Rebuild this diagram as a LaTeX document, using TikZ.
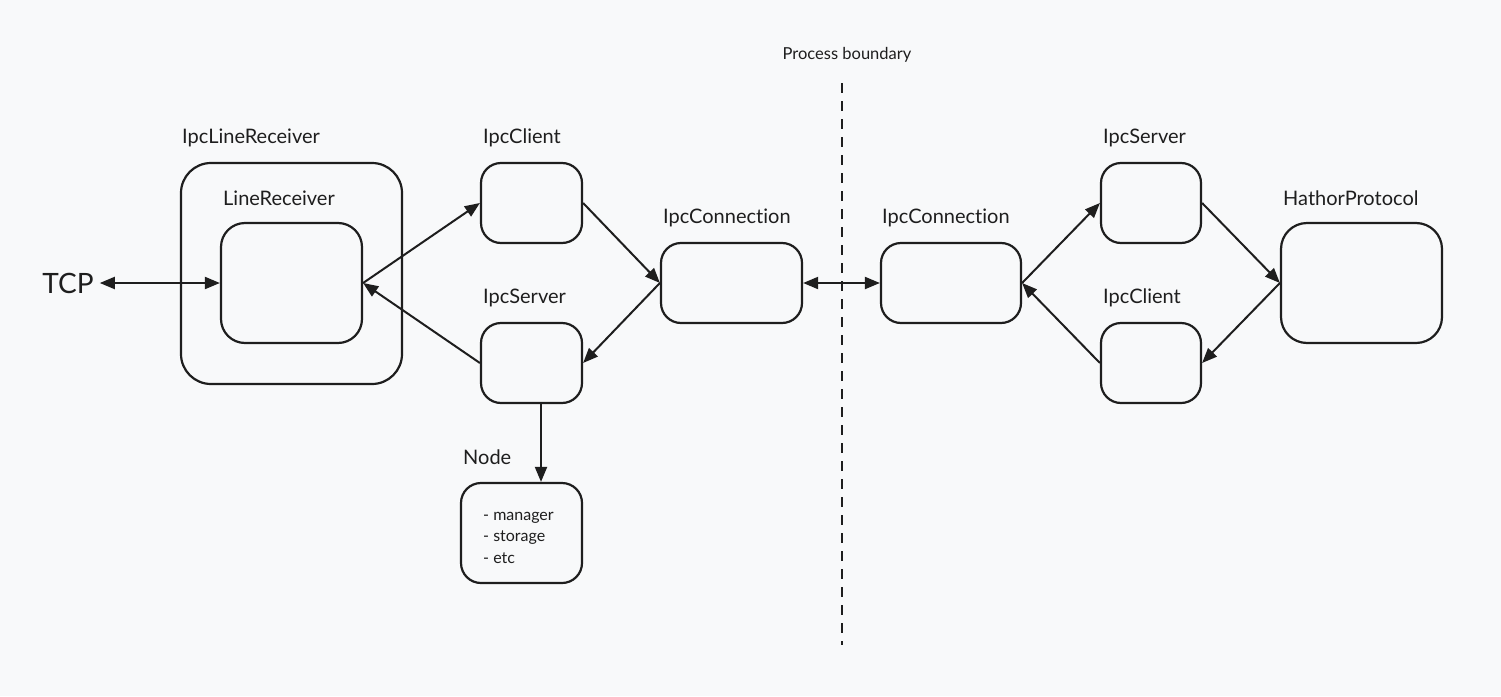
\documentclass[tikz,border=0pt]{standalone}
\usepackage{fontspec}
\setmainfont[Ligatures=NoCommon]{Lato}
\usetikzlibrary{arrows.meta}
\definecolor{bgc}{HTML}{F8F9FA}
\definecolor{ink}{HTML}{1E1E1E}
\tikzset{
  box/.style={draw=ink, line width=2.2pt, rounded corners=#1, inner sep=0pt},
  box/.default=20pt,
  lbl/.style={anchor=west, inner sep=0pt, text=ink, font=\fontsize{20}{22}\selectfont},
  conn/.style={draw=ink, line width=2pt, -{Triangle[length=15pt,width=12pt]}},
  dconn/.style={draw=ink, line width=2pt, {Triangle[length=15pt,width=12pt]}-{Triangle[length=15pt,width=12pt]}},
}
\begin{document}
\begin{tikzpicture}[x=1pt,y=-1pt]
\fill[bgc] (0,0) rectangle (1501,696);
\useasboundingbox (0,0) rectangle (1501,696);

% boxes
\node[box=30pt, minimum width=221pt, minimum height=221pt] (outer) at (291.5,273.5) {};
\node[box=24pt, minimum width=141pt, minimum height=120pt] (lr) at (291.5,283) {};
\node[box, minimum width=101pt, minimum height=80pt] (cliL) at (531.5,203) {};
\node[box, minimum width=101pt, minimum height=80pt] (srvL) at (531.5,363) {};
\node[box, minimum width=141pt, minimum height=80pt] (conL) at (731.5,283) {};
\node[box, minimum width=121pt, minimum height=100pt] (nodebox) at (521.5,533) {};
\node[box, minimum width=140pt, minimum height=80pt] (conR) at (951,283) {};
\node[box, minimum width=100pt, minimum height=80pt] (srvR) at (1151,203) {};
\node[box, minimum width=100pt, minimum height=80pt] (cliR) at (1151,363) {};
\node[box=26pt, minimum width=161pt, minimum height=120pt] (hath) at (1361.5,283) {};

% labels
\node[lbl] (tOuter) at (182,138) {IpcLineReceiver};
\node[lbl] (tLr) at (223,198) {LineReceiver};
\node[lbl] (tCliL) at (483,138) {IpcClient};
\node[lbl] (tSrvL) at (483,298) {IpcServer};
\node[lbl] (tConL) at (663,218) {IpcConnection};
\node[lbl] (tNode) at (463,457) {Node};
\node[lbl] (tConR) at (882,218) {IpcConnection};
\node[lbl] (tSrvR) at (1103,138) {IpcServer};
\node[lbl] (tCliR) at (1103,298) {IpcClient};
\node[lbl] (tHath) at (1283,198) {HathorProtocol};
\node[inner sep=0pt, text=ink, font=\fontsize{16.5}{18}\selectfont] (tProc) at (847,55) {Process boundary};
\node[inner sep=0pt, text=ink, font=\fontsize{28}{30}\selectfont] (tcp) at (68,283) {TCP};
\node[anchor=north west, inner sep=0pt, text=ink, align=left, font=\fontsize{16}{21.5}\selectfont] (nodeText) at (483,512) {- manager\\- storage\\- etc};

% process boundary
\coordinate (pbTop) at (842,83);
\coordinate (pbBot) at (842,645);
\draw[ink, line width=2.6pt, dash pattern=on 10pt off 8pt] (pbTop) -- (pbBot);

% connectors
\draw[dconn] ([xshift=6pt]tcp.east) -- (lr.west);
\draw[conn] (lr.east) -- (cliL.west);
\draw[conn] (srvL.west) -- (lr.east);
\draw[conn] (cliL.east) -- (conL.west);
\draw[conn] (conL.west) -- (srvL.east);
\draw[dconn] (conL.east) -- (conR.west);
\draw[conn] ([xshift=9.5pt]srvL.south) -- ([xshift=19.5pt]nodebox.north);
\draw[conn] (conR.east) -- (srvR.west);
\draw[conn] (srvR.east) -- (hath.west);
\draw[conn] (hath.west) -- (cliR.east);
\draw[conn] (cliR.west) -- (conR.east);
\end{tikzpicture}
\end{document}
